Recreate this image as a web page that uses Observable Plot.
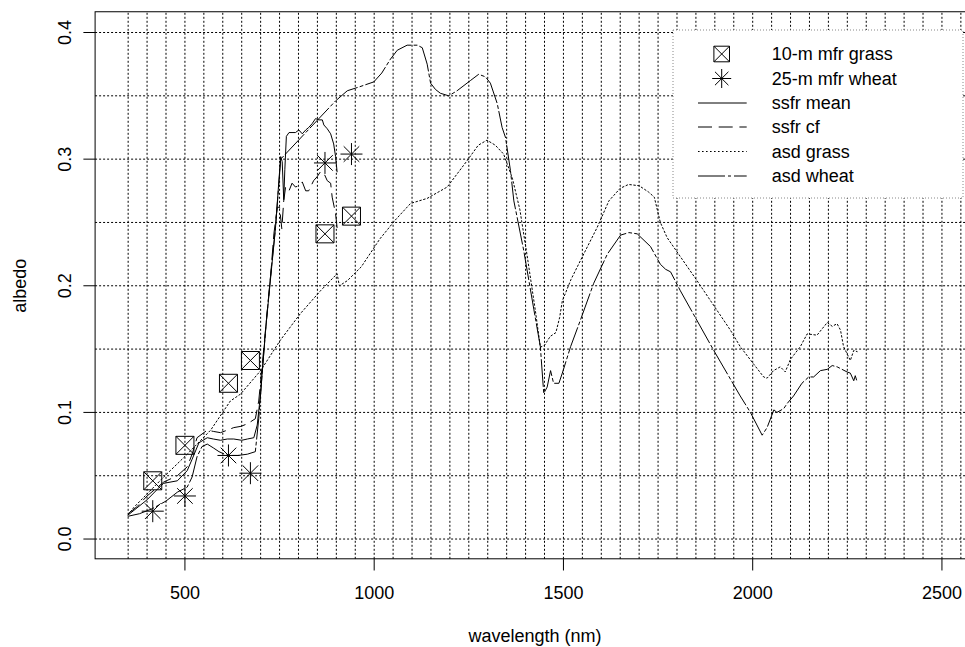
<!DOCTYPE html>
<html><head><meta charset="utf-8">
<script src="https://cdn.jsdelivr.net/npm/d3@7"></script>
<script src="https://cdn.jsdelivr.net/npm/@observablehq/plot@0.6"></script>
<style>
html,body{margin:0;padding:0;background:#fff;overflow:hidden;}
#chart svg{overflow:hidden;display:block;}
</style></head><body><div id="chart"></div>
<script>
// ---- data ----
const mfrWl = [415, 500, 615, 673, 870, 940];
const mfrGrass10 = [0.046, 0.074, 0.123, 0.141, 0.241, 0.255];
const mfrWheat25 = [0.022, 0.034, 0.066, 0.052, 0.297, 0.304];

const ssfrMeanWl = [350,400,436,444,480,506,519,537,559,575,594,612,629,650,665,682,691,700,713,726,739,748,753,757,761,764,768,775,792,801,810,819,827,836,845,854,863,867,876,885,893,898,902];
const ssfrMean   = [0.019,0.031,0.042,0.044,0.046,0.054,0.063,0.076,0.080,0.079,0.078,0.079,0.079,0.078,0.079,0.080,0.090,0.115,0.165,0.205,0.245,0.282,0.302,0.298,0.268,0.292,0.318,0.321,0.321,0.323,0.320,0.323,0.325,0.328,0.332,0.331,0.331,0.327,0.324,0.320,0.312,0.302,0.290];

const ssfrCfWl = [350,375,400,444,480,506,519,532,559,575,594,612,629,648,665,686,695,705,716,727,735,744,750,756,761,766,775,783,792,801,810,819,827,840,849,858,867,876,885,889,898,902];
const ssfrCf   = [0.020,0.026,0.034,0.045,0.050,0.057,0.067,0.080,0.086,0.085,0.084,0.086,0.088,0.089,0.091,0.095,0.109,0.140,0.175,0.210,0.241,0.262,0.262,0.245,0.267,0.278,0.275,0.281,0.278,0.279,0.282,0.275,0.275,0.283,0.286,0.290,0.289,0.283,0.281,0.270,0.257,0.246];

const asdGrassWl = [350,365,444,506,568,620,647,700,752,805,858,902,908,929,966,1015,1056,1096,1140,1193,1246,1275,1298,1320,1342,1365,1385,1405,1426,1439,1450,1465,1480,1490,1497,1520,1545,1589,1620,1650,1672,1700,1725,1740,1756,1774,1853,1941,1967,2003,2029,2038,2055,2073,2086,2100,2126,2144,2170,2197,2210,2223,2232,2240,2258,2267,2276];
const asdGrass   = [0.019,0.025,0.049,0.067,0.086,0.109,0.1145,0.133,0.157,0.178,0.196,0.2095,0.200,0.204,0.215,0.237,0.252,0.265,0.269,0.278,0.299,0.311,0.315,0.311,0.304,0.285,0.260,0.222,0.180,0.1515,0.153,0.160,0.163,0.175,0.188,0.205,0.220,0.246,0.267,0.277,0.280,0.279,0.274,0.270,0.250,0.238,0.204,0.165,0.152,0.138,0.128,0.127,0.133,0.136,0.132,0.142,0.152,0.162,0.161,0.171,0.168,0.170,0.165,0.152,0.141,0.149,0.148];

const asdWheatWl = [350,380,414,450,480,506,519,532,545,559,575,590,612,640,665,686,695,705,716,727,739,748,753,898,929,960,999,1020,1043,1061,1087,1114,1127,1140,1149,1162,1175,1197,1219,1254,1276,1294,1307,1325,1338,1347,1360,1369,1395,1422,1439,1448,1457,1466,1474,1488,1497,1519,1545,1580,1616,1651,1673,1695,1730,1756,1770,1783,1809,1897,1967,1994,2025,2038,2056,2064,2082,2091,2108,2130,2148,2161,2179,2197,2210,2223,2236,2249,2258,2267,2271,2276];
const asdWheat   = [0.018,0.020,0.024,0.030,0.037,0.041,0.049,0.065,0.073,0.075,0.072,0.069,0.066,0.066,0.067,0.069,0.095,0.135,0.175,0.210,0.245,0.280,0.300,0.346,0.354,0.357,0.361,0.368,0.379,0.386,0.390,0.390,0.388,0.375,0.360,0.355,0.352,0.350,0.354,0.362,0.367,0.365,0.360,0.344,0.325,0.317,0.291,0.267,0.228,0.181,0.152,0.115,0.120,0.133,0.123,0.123,0.131,0.152,0.173,0.202,0.225,0.240,0.242,0.241,0.231,0.217,0.213,0.211,0.196,0.149,0.113,0.100,0.082,0.088,0.102,0.100,0.103,0.107,0.113,0.123,0.128,0.128,0.133,0.134,0.137,0.136,0.134,0.132,0.131,0.125,0.129,0.124];

const xTicks = [500, 1000, 1500, 2000, 2500];
const yTicks = [0, 0.1, 0.2, 0.3, 0.4];
const gridX = d3.range(350, 2551, 50);
const gridY = d3.range(0, 0.4001, 0.05);
const xDomain = [264, 2586];
const yDomain = [-0.016, 0.416];

const legendLabels = ["10-m mfr grass", "25-m mfr wheat", "ssfr mean", "ssfr cf", "asd grass", "asd wheat"];

// ---- helpers ----
const pts = (wl, v) => wl.map((w, i) => ({wl: w, v: v[i]}));
const squareX = {draw(ctx, size) { const r = Math.sqrt(size / Math.PI);
  ctx.moveTo(-r, -r); ctx.lineTo(r, -r); ctx.lineTo(r, r); ctx.lineTo(-r, r); ctx.closePath();
  ctx.moveTo(-r, -r); ctx.lineTo(r, r); ctx.moveTo(r, -r); ctx.lineTo(-r, r); }};
const star8 = {draw(ctx, size) { const r = Math.sqrt(size / Math.PI), d = r / Math.SQRT2;
  ctx.moveTo(-r, 0); ctx.lineTo(r, 0); ctx.moveTo(0, -r); ctx.lineTo(0, r);
  ctx.moveTo(-d, -d); ctx.lineTo(d, d); ctx.moveTo(d, -d); ctx.lineTo(-d, d); }};

const DASH = {solid: null, dashed: "14,6.7", dotted: "1.6,2.4", dotdash: "27,3,3,3"};
const FONT = "'Liberation Sans', Arial, Helvetica, sans-serif";

const chart = Plot.plot({
  width: 965, height: 647,
  marginLeft: 95.1, marginRight: 0, marginTop: 11.75, marginBottom: 88.2,
  style: {fontFamily: FONT, fontSize: "18px", background: "white", overflow: "hidden"},
  x: {domain: xDomain, range: [95.1, 974]},
  y: {domain: yDomain, range: [558.8, 11.75]},
  marks: [
    Plot.ruleX(gridX, {y1: yDomain[0], y2: yDomain[1], stroke: "black", strokeWidth: 1, strokeDasharray: "2,2"}),
    Plot.ruleY(gridY, {x1: xDomain[0], x2: xDomain[1], stroke: "black", strokeWidth: 1, strokeDasharray: "2,2"}),
    Plot.rect([0], {x1: xDomain[0], x2: xDomain[1], y1: yDomain[0], y2: yDomain[1], fill: "none", stroke: "black", strokeWidth: 1}),
    Plot.axisX({ticks: xTicks, tickSize: 11.7, tickFormat: () => "", label: null}),
    Plot.axisY({ticks: yTicks, tickSize: 11.7, tickFormat: () => "", label: null}),
    Plot.text(xTicks, {x: d => d, y: yDomain[0], dy: 34.2, text: d => String(d), fontSize: 18, lineAnchor: "middle", fill: "black"}),
    Plot.text(yTicks, {x: xDomain[0], y: d => d, dx: -30.7, rotate: -90, text: d => d.toFixed(1), fontSize: 18, lineAnchor: "middle", fill: "black"}),
    Plot.text(["wavelength (nm)"], {x: (xDomain[0] + xDomain[1]) / 2, y: yDomain[0], dy: 76.6, text: d => d, fontSize: 18, lineAnchor: "middle", fill: "black"}),
    Plot.text(["albedo"], {x: xDomain[0], y: (yDomain[0] + yDomain[1]) / 2, dx: -75.4, rotate: -90, text: d => d, fontSize: 18, lineAnchor: "middle", fill: "black"}),
    Plot.line(pts(asdGrassWl, asdGrass), {x: "wl", y: "v", stroke: "black", strokeWidth: 1, strokeDasharray: DASH.dotted}),
    Plot.line(pts(asdWheatWl, asdWheat), {x: "wl", y: "v", stroke: "black", strokeWidth: 1, strokeDasharray: DASH.dotdash}),
    Plot.line(pts(ssfrCfWl, ssfrCf), {x: "wl", y: "v", stroke: "black", strokeWidth: 1, strokeDasharray: DASH.dashed}),
    Plot.line(pts(ssfrMeanWl, ssfrMean), {x: "wl", y: "v", stroke: "black", strokeWidth: 1}),
    Plot.dot(pts(mfrWl, mfrGrass10), {x: "wl", y: "v", symbol: squareX, r: 9, stroke: "black", fill: "none", strokeWidth: 1}),
    Plot.dot(pts(mfrWl, mfrWheat25), {x: "wl", y: "v", symbol: star8, r: 11, stroke: "black", fill: "none", strokeWidth: 1})
  ]
});
document.getElementById("chart").appendChild(chart);

// ---- legend (top right, white background) ----
const svg = d3.select(chart);
const lg = svg.append("g").attr("font-family", FONT).attr("font-size", 18).attr("text-anchor", "start");
lg.append("rect").attr("x", 673).attr("y", 30).attr("width", 290).attr("height", 168)
  .attr("fill", "white").attr("stroke", "#888").attr("stroke-dasharray", "1,2");
const rowsY = [54, 78.5, 103, 127, 151.5, 176];
const kinds = ["square", "star", "solid", "dashed", "dotted", "dotdash"];
rowsY.forEach((y, i) => {
  const k = kinds[i];
  if (k === "square" || k === "star") {
    const sym = k === "square" ? squareX : star8;
    const r = k === "square" ? 7.8 : 9.5;
    lg.append("path").attr("transform", `translate(721.7,${y})`)
      .attr("d", d3.symbol(sym, r * r * Math.PI)()).attr("fill", "none").attr("stroke", "black");
  } else {
    const ln = lg.append("line").attr("x1", 698).attr("x2", 746.7).attr("y1", y).attr("y2", y)
      .attr("stroke", "black").attr("stroke-width", 1);
    if (DASH[k]) ln.attr("stroke-dasharray", DASH[k]);
  }
  lg.append("text").attr("x", 771.7).attr("y", y + 6.3).attr("text-anchor", "start").attr("fill", "black").text(legendLabels[i]);
});
</script></body></html>
